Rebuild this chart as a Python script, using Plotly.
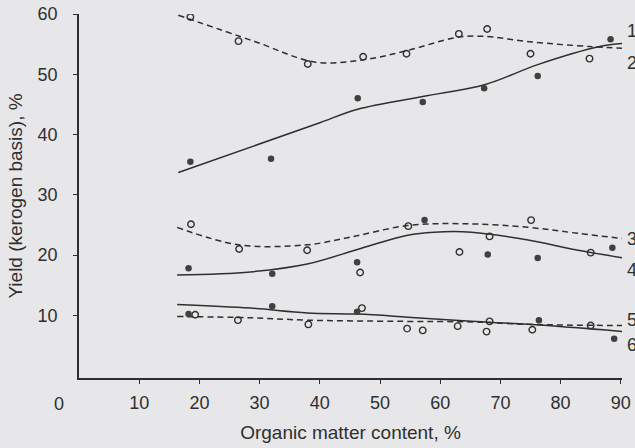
import plotly.graph_objects as go

# ---- data ----
# scatter points (open = hollow circles, filled = solid circles)
s1_x = [18.5, 26.5, 38.0, 47.2, 54.4, 63.1, 67.8, 75.0, 84.8]
s1_y = [59.5, 55.5, 51.7, 52.9, 53.4, 56.7, 57.5, 53.4, 52.6]
s2_x = [18.5, 31.9, 46.3, 57.1, 67.3, 76.2, 88.3]
s2_y = [35.5, 36.0, 46.0, 45.4, 47.7, 49.7, 55.8]
s3_x = [18.6, 26.6, 37.9, 46.7, 54.7, 63.2, 68.2, 75.1, 85.0]
s3_y = [25.1, 21.0, 20.8, 17.1, 24.8, 20.5, 23.1, 25.8, 20.4]
s4_x = [18.2, 32.1, 46.2, 57.4, 67.9, 76.2, 88.6]
s4_y = [17.8, 16.9, 18.8, 25.8, 20.1, 19.5, 21.2]
s5_x = [19.3, 26.4, 38.1, 47.0, 54.5, 57.1, 62.9, 68.2, 67.7, 75.3, 85.0]
s5_y = [10.1, 9.2, 8.5, 11.2, 7.8, 7.5, 8.2, 9.0, 7.3, 7.6, 8.3]
s6_x = [18.2, 32.1, 46.2, 76.4, 88.9]
s6_y = [10.2, 11.5, 10.6, 9.2, 6.1]

# smoothed curves
c1_x = [16.5, 29.3, 39.3, 47.2, 54.4, 62.7, 67.1, 74.8, 84.8, 90.2]
c1_y = [59.8, 55.4, 52.0, 52.4, 53.9, 56.1, 56.3, 55.4, 54.6, 54.3]
c2_x = [16.5, 39.3, 46.3, 57.1, 67.5, 76.2, 86.5, 90.4]
c2_y = [33.7, 41.7, 44.2, 46.3, 48.3, 51.6, 54.6, 55.1]
c3_x = [16.3, 26.5, 37.9, 45.2, 54.6, 64.0, 74.6, 82.9, 90.6]
c3_y = [24.6, 21.7, 21.7, 23.0, 24.9, 25.2, 24.6, 23.6, 22.7]
c4_x = [16.3, 28.5, 37.9, 46.8, 54.6, 59.0, 65.2, 74.6, 82.9, 90.6]
c4_y = [16.7, 17.2, 18.5, 21.1, 23.3, 23.8, 23.8, 22.5, 20.8, 19.5]
c5_x = [16.3, 28.5, 37.9, 53.5, 65.2, 74.6, 90.6]
c5_y = [9.8, 9.6, 9.2, 9.0, 8.9, 8.5, 8.3]
c6_x = [16.3, 28.5, 37.9, 46.3, 54.6, 65.2, 74.6, 90.6]
c6_y = [11.8, 11.2, 10.4, 10.2, 9.7, 9.0, 8.5, 7.3]

curve_labels = ["1", "2", "3", "4", "5", "6"]
label_y = [57.1, 51.9, 22.7, 17.5, 9.2, 5.0]

x_ticks = [10, 20, 30, 40, 50, 60, 70, 80, 90]
y_ticks = [10, 20, 30, 40, 50, 60]

# ---- styling ----
INK = "#2f2f2f"
BG = "#e7e7e9"
FONT = "Liberation Sans, Arial, sans-serif"
Y_MIN, Y_MAX = -0.4, 60

fig = go.Figure()

curves = [(c1_x, c1_y, True), (c2_x, c2_y, False), (c3_x, c3_y, True),
          (c4_x, c4_y, False), (c5_x, c5_y, True), (c6_x, c6_y, False)]
for cx, cy, dashed in curves:
    fig.add_trace(go.Scatter(
        x=cx, y=cy, mode="lines",
        line=dict(color=INK, width=1.5, shape="spline", smoothing=1.0,
                  dash="6px,4px" if dashed else "solid"),
        showlegend=False, hoverinfo="skip", cliponaxis=False))

open_sets = [(s1_x, s1_y), (s3_x, s3_y), (s5_x, s5_y)]
filled_sets = [(s2_x, s2_y), (s4_x, s4_y), (s6_x, s6_y)]
for px, py in open_sets:
    fig.add_trace(go.Scatter(
        x=px, y=py, mode="markers",
        marker=dict(symbol="circle-open", size=6.5, color=INK, line=dict(width=1.4)),
        showlegend=False))
for px, py in filled_sets:
    fig.add_trace(go.Scatter(
        x=px, y=py, mode="markers",
        marker=dict(symbol="circle", size=6.5, color="#404040"),
        showlegend=False))

# curve numbers on the right edge (paper x beyond the plot area)
for lab, ly in zip(curve_labels, label_y):
    fig.add_annotation(x=1.005, y=(ly - Y_MIN) / (Y_MAX - Y_MIN), xref="paper", yref="paper",
                       text=lab, showarrow=False, xanchor="left", yanchor="middle",
                       font=dict(size=18, color=INK, family=FONT))

# the "0" label sits left of the origin
fig.add_annotation(x=0, y=0, xref="paper", yref="paper", text="0", showarrow=False,
                   xanchor="center", yanchor="middle", xshift=-20, yshift=-26,
                   font=dict(size=18, color=INK, family=FONT))

fig.update_layout(
    width=635, height=448,
    margin=dict(l=79, r=13, t=14, b=70),
    paper_bgcolor=BG, plot_bgcolor=BG,
    font=dict(family=FONT, size=18, color=INK),
    xaxis=dict(range=[0, 90.2], tickvals=x_ticks, ticktext=[str(v) for v in x_ticks],
               showgrid=False, zeroline=False, showline=True, linecolor=INK, linewidth=1.5,
               ticks="outside", ticklen=4, tickcolor=INK, tickwidth=1.2,
               ticklabelstandoff=4, automargin=False, ticklabeloverflow="allow",
               title=dict(text="Organic matter content, %", font=dict(size=19), standoff=13)),
    yaxis=dict(range=[Y_MIN, Y_MAX], tickvals=y_ticks, ticktext=[str(v) for v in y_ticks],
               showgrid=False, zeroline=False, showline=True, linecolor=INK, linewidth=1.5,
               ticks="outside", ticklen=4, tickcolor=INK, tickwidth=1.2,
               ticklabelstandoff=12, automargin=False, ticklabeloverflow="allow",
               title=dict(text="Yield (kerogen basis), %", font=dict(size=19), standoff=10)),
)

fig.write_html("out.html", config={"displayModeBar": False},
               post_script="document.body.style.margin='0';document.body.style.background='%s';" % BG)
